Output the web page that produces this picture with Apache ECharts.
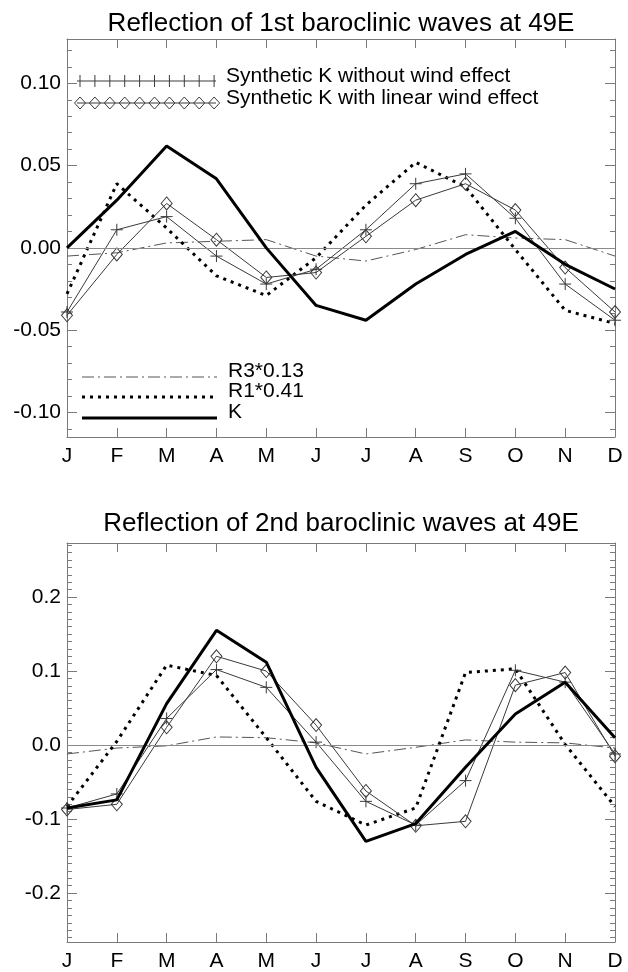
<!DOCTYPE html>
<html>
<head>
<meta charset="utf-8">
<script src="https://cdn.jsdelivr.net/npm/echarts@6/dist/echarts.min.js"></script>
<style>
html,body{margin:0;padding:0;background:#fff;}
#chart{width:628px;height:972px;}
</style>
</head>
<body>
<div id="chart"></div>
<script>
// ---------- data ----------
const months = ['J','F','M','A','M','J','J','A','S','O','N','D'];

const topTitle = 'Reflection of 1st baroclinic waves at 49E';
const topK          = [0.000, 0.029, 0.062, 0.042, 0.000, -0.035, -0.044, -0.022, -0.004, 0.010, -0.010, -0.025];
const topR1         = [-0.028, 0.039, 0.012, -0.017, -0.029, -0.006, 0.026, 0.052, 0.037, -0.001, -0.038, -0.046];
const topR3         = [-0.005, -0.003, 0.003, 0.004, 0.005, -0.005, -0.008, -0.001, 0.008, 0.006, 0.005, -0.005];
const topSynNoWind  = [-0.039, 0.011, 0.019, -0.005, -0.022, -0.013, 0.011, 0.039, 0.045, 0.018, -0.022, -0.044];
const topSynLinWind = [-0.041, -0.004, 0.027, 0.005, -0.018, -0.015, 0.007, 0.029, 0.039, 0.023, -0.012, -0.039];
const topMajorTicks = [-0.10, -0.05, 0.00, 0.05, 0.10];
const topRange = [-0.115, 0.127];

const botTitle = 'Reflection of 2nd baroclinic waves at 49E';
const botK          = [-0.085, -0.074, 0.056, 0.155, 0.112, -0.030, -0.130, -0.106, -0.030, 0.042, 0.085, 0.010];
const botR1         = [-0.083, 0.005, 0.108, 0.094, 0.010, -0.076, -0.108, -0.085, 0.098, 0.103, 0.001, -0.083];
const botR3         = [-0.012, -0.004, -0.001, 0.011, 0.010, 0.003, -0.012, -0.003, 0.007, 0.004, 0.003, -0.004];
const botSynNoWind  = [-0.085, -0.066, 0.036, 0.102, 0.078, 0.004, -0.076, -0.108, -0.048, 0.101, 0.085, -0.012];
const botSynLinWind = [-0.087, -0.080, 0.024, 0.120, 0.100, 0.027, -0.062, -0.109, -0.103, 0.081, 0.098, -0.015];
const botMajorTicks = [-0.2, -0.1, 0.0, 0.1, 0.2];
const botRange = [-0.266, 0.273];

const legendTopNames = ['Synthetic K without wind effect', 'Synthetic K with linear wind effect'];
const legendBottomNames = ['R3*0.13', 'R1*0.41', 'K'];

// ---------- helpers ----------
function minorTicks(lo, hi, step) {
  const out = [];
  const start = Math.ceil(lo / step - 1e-9);
  const end = Math.floor(hi / step + 1e-9);
  for (let i = start; i <= end; i++) out.push(+(i * step).toFixed(4));
  return out;
}
const FONT = '"Liberation Sans", Helvetica, Arial, sans-serif';
const FRAME = '#7a7a7a';
const THIN = '#3a3a3a';
const PLUS = 'path://M5,0 L5,10 M0,5 L10,5';

function xAxes(gi) {
  const base = {
    type: 'category', gridIndex: gi, data: months, boundaryGap: false,
    axisLine: {show: true, onZero: false, lineStyle: {color: FRAME, width: 1}},
    axisTick: {show: true, inside: true, length: 9, interval: 0, lineStyle: {color: FRAME}},
    splitLine: {show: false}
  };
  return [
    Object.assign({}, base, {position: 'bottom',
      axisLabel: {show: true, interval: 0, color: '#000', fontSize: 21, fontFamily: FONT, margin: 9}}),
    Object.assign({}, base, {position: 'top', axisLabel: {show: false}})
  ];
}
function yAxes(gi, range, major, step, digits) {
  const minor = minorTicks(range[0], range[1], step);
  const common = {type: 'value', gridIndex: gi, min: range[0], max: range[1], splitLine: {show: false}};
  return [
    Object.assign({}, common, {position: 'left',
      axisLine: {show: true, onZero: false, lineStyle: {color: FRAME}},
      axisTick: {show: true, inside: true, length: 10, customValues: major, lineStyle: {color: FRAME}},
      axisLabel: {show: true, customValues: major, color: '#000', fontSize: 21, fontFamily: FONT, margin: 6,
        formatter: v => v.toFixed(digits)}}),
    Object.assign({}, common, {position: 'left',
      axisLine: {show: false, onZero: false},
      axisTick: {show: true, inside: true, length: 5, customValues: minor, lineStyle: {color: FRAME}},
      axisLabel: {show: false}}),
    Object.assign({}, common, {position: 'right',
      axisLine: {show: true, onZero: false, lineStyle: {color: FRAME}},
      axisTick: {show: true, inside: true, length: 10, customValues: major, lineStyle: {color: FRAME}},
      axisLabel: {show: false}}),
    Object.assign({}, common, {position: 'right',
      axisLine: {show: false, onZero: false},
      axisTick: {show: true, inside: true, length: 5, customValues: minor, lineStyle: {color: FRAME}},
      axisLabel: {show: false}})
  ];
}
function seriesFor(gi, yIdx, k, r1, r3, s1, s2) {
  const ax = {xAxisIndex: gi * 2, yAxisIndex: yIdx};
  return [
    Object.assign({type: 'line', data: r3, symbol: 'none', z: 2,
      lineStyle: {color: '#555', width: 1, type: [12, 4, 2, 4]},
      markLine: {silent: true, symbol: ['none', 'none'], label: {show: false},
        lineStyle: {color: '#8a8a8a', width: 1, type: 'solid'}, data: [{yAxis: 0}]}}, ax),
    Object.assign({type: 'line', data: r1, symbol: 'none', z: 3,
      lineStyle: {color: '#000', width: 3, type: [3, 5]}}, ax),
    Object.assign({type: 'line', data: s1, symbol: PLUS, symbolSize: 12, z: 4,
      itemStyle: {color: 'none', borderColor: THIN, borderWidth: 1},
      lineStyle: {color: THIN, width: 1}}, ax),
    Object.assign({type: 'line', data: s2, symbol: 'diamond', symbolSize: [11, 13], z: 4,
      itemStyle: {color: 'rgba(0,0,0,0)', borderColor: THIN, borderWidth: 1},
      lineStyle: {color: THIN, width: 1}}, ax),
    Object.assign({type: 'line', data: k, symbol: 'none', z: 5,
      lineStyle: {color: '#000', width: 3}}, ax)
  ];
}

// ---------- titles & legend graphics ----------
const g = [];
g.push({type: 'text', x: 341, y: 24, style: {text: topTitle, font: '26px ' + FONT, fill: '#000', align: 'center', verticalAlign: 'middle'}});
g.push({type: 'text', x: 341, y: 524, style: {text: botTitle, font: '26px ' + FONT, fill: '#000', align: 'center', verticalAlign: 'middle'}});

g.push({type: 'line', shape: {x1: 77, y1: 81, x2: 216, y2: 81}, style: {stroke: THIN, lineWidth: 1}});
g.push({type: 'line', shape: {x1: 77, y1: 103, x2: 216, y2: 103}, style: {stroke: THIN, lineWidth: 1}});
for (let i = 0; i < 10; i++) {
  const cx = 80 + i * 14.9;
  g.push({type: 'line', shape: {x1: cx, y1: 75, x2: cx, y2: 87}, style: {stroke: THIN, lineWidth: 1}});
  g.push({type: 'polygon', shape: {points: [[cx, 97], [cx + 5.5, 103], [cx, 109], [cx - 5.5, 103]]}, style: {stroke: THIN, fill: 'none', lineWidth: 1}});
}
g.push({type: 'text', x: 226, y: 76, style: {text: legendTopNames[0], font: '21px ' + FONT, fill: '#000', verticalAlign: 'middle'}});
g.push({type: 'text', x: 226, y: 98, style: {text: legendTopNames[1], font: '21px ' + FONT, fill: '#000', verticalAlign: 'middle'}});

g.push({type: 'line', shape: {x1: 82, y1: 377, x2: 217, y2: 377}, style: {stroke: '#555', lineWidth: 1, lineDash: [12, 4, 2, 4]}});
g.push({type: 'line', shape: {x1: 82, y1: 397, x2: 217, y2: 397}, style: {stroke: '#000', lineWidth: 3, lineDash: [3, 5]}});
g.push({type: 'line', shape: {x1: 82, y1: 418, x2: 217, y2: 418}, style: {stroke: '#000', lineWidth: 3}});
g.push({type: 'text', x: 228, y: 371, style: {text: legendBottomNames[0], font: '21px ' + FONT, fill: '#000', verticalAlign: 'middle'}});
g.push({type: 'text', x: 228, y: 391, style: {text: legendBottomNames[1], font: '21px ' + FONT, fill: '#000', verticalAlign: 'middle'}});
g.push({type: 'text', x: 228, y: 412, style: {text: legendBottomNames[2], font: '21px ' + FONT, fill: '#000', verticalAlign: 'middle'}});

const chart = echarts.init(document.getElementById('chart'), null, {renderer: 'canvas'});
chart.setOption({
  animation: false,
  backgroundColor: '#fff',
  textStyle: {fontFamily: FONT},
  grid: [
    {left: 67, top: 39, width: 548, height: 398, containLabel: false},
    {left: 67, top: 543, width: 548, height: 399, containLabel: false}
  ],
  xAxis: xAxes(0).concat(xAxes(1)),
  yAxis: yAxes(0, topRange, topMajorTicks, 0.01, 2).concat(yAxes(1, botRange, botMajorTicks, 0.01, 1)),
  series: seriesFor(0, 0, topK, topR1, topR3, topSynNoWind, topSynLinWind)
    .concat(seriesFor(1, 4, botK, botR1, botR3, botSynNoWind, botSynLinWind)),
  graphic: g
});
</script>
</body>
</html>
